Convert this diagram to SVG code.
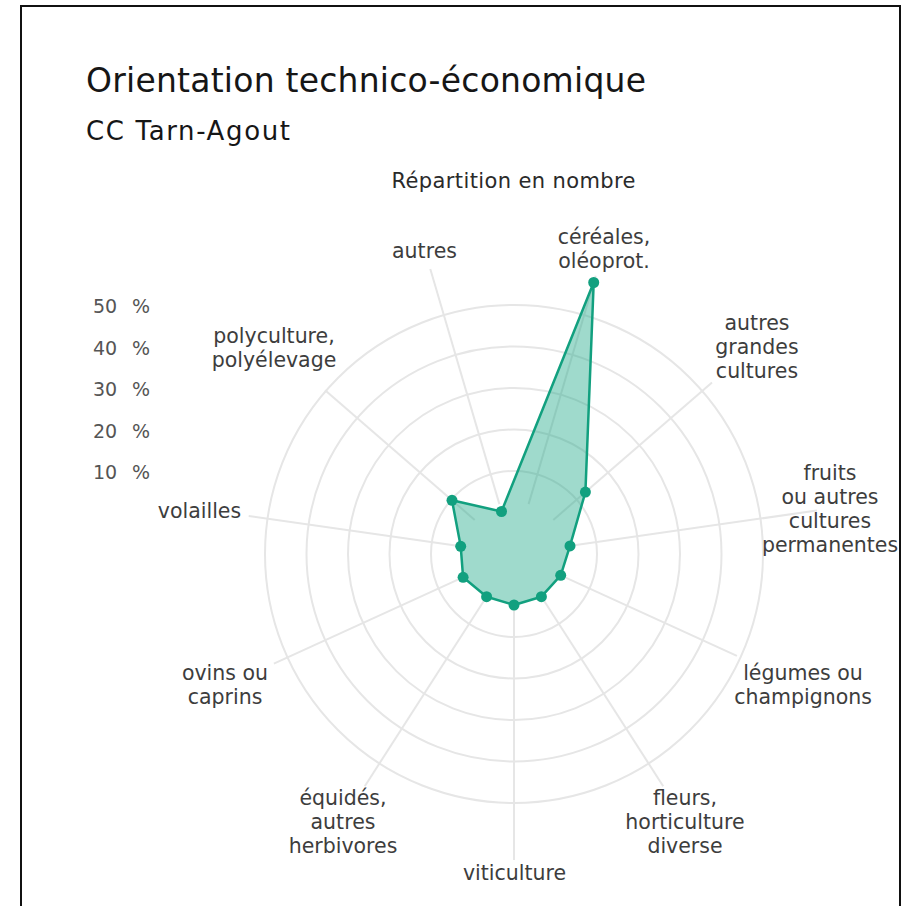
<svg xmlns="http://www.w3.org/2000/svg" width="904" height="906" viewBox="0 0 904 906">
<style>
.t{font-family:"DejaVu Sans","Open Sans","Liberation Sans",sans-serif;}
.title{font-size:33px;fill:#161616;}
.sub{font-size:26px;fill:#161616;}
.cap{font-size:21px;fill:#2a2a2a;}
.lab{font-size:20.5px;fill:#3d3d3d;text-anchor:middle;}
.tick{font-size:19px;fill:#555555;}
.grid{fill:none;stroke:#e6e6e6;stroke-width:2;}
.ax{stroke:#e6e6e6;stroke-width:2;}
.dot{fill:#12a07f;}
</style>
<rect x="0" y="0" width="904" height="906" fill="#ffffff"/>
<rect x="21" y="6" width="879" height="912" fill="none" stroke="#111111" stroke-width="2"/>
<g id="header" class="t">
<text class="title" x="86" y="92" textLength="560" lengthAdjust="spacing">Orientation technico-économique</text>
<text class="sub" x="86" y="140" textLength="204" lengthAdjust="spacing">CC Tarn-Agout</text>
<text class="cap" x="513.5" y="188" text-anchor="middle" textLength="244" lengthAdjust="spacing">Répartition en nombre</text>
</g>
<g id="grid">
<circle class="grid" cx="514" cy="554" r="83"/>
<circle class="grid" cx="514" cy="554" r="124.5"/>
<circle class="grid" cx="514" cy="554" r="166"/>
<circle class="grid" cx="514" cy="554" r="207.5"/>
<circle class="grid" cx="514" cy="554" r="249"/>
</g>
<g id="axes">
<line class="ax" x1="528.6" y1="504.1" x2="595.7" y2="275.7"/>
<line class="ax" x1="553.3" y1="519.9" x2="712.0" y2="382.4"/>
<line class="ax" x1="565.5" y1="546.6" x2="816.9" y2="510.5"/>
<line class="ax" x1="561.3" y1="575.6" x2="736.9" y2="655.8"/>
<line class="ax" x1="542.1" y1="597.7" x2="663.2" y2="786.2"/>
<line class="ax" x1="514" y1="606" x2="514" y2="860"/>
<line class="ax" x1="485.9" y1="597.7" x2="364.8" y2="786.2"/>
<line class="ax" x1="466.7" y1="575.6" x2="273.9" y2="663.7"/>
<line class="ax" x1="462.5" y1="546.6" x2="248.7" y2="515.9"/>
<line class="ax" x1="474.7" y1="519.9" x2="325.1" y2="390.3"/>
<line class="ax" x1="499.4" y1="504.1" x2="430.3" y2="269.0"/>
</g>
<g id="ticks" class="t tick">
<text x="93" y="313">50<tspan x="132">%</tspan></text>
<text x="93" y="354.5">40<tspan x="132">%</tspan></text>
<text x="93" y="396">30<tspan x="132">%</tspan></text>
<text x="93" y="437.5">20<tspan x="132">%</tspan></text>
<text x="93" y="479">10<tspan x="132">%</tspan></text>
</g>
<g id="series">
<polygon points="593.7,282.5 585.4,492.1 570.0,545.9 560.7,575.3 541.4,596.7 514,605 486.6,596.7 463.1,577.3 460.7,546.3 452.0,500.3 501.5,511.5" fill="#1aa886" fill-opacity="0.42" stroke="#12a07f" stroke-width="2.5" stroke-linejoin="round"/>
<circle class="dot" cx="593.7" cy="282.5" r="5.5"/>
<circle class="dot" cx="585.4" cy="492.1" r="5.5"/>
<circle class="dot" cx="570.0" cy="545.9" r="5.5"/>
<circle class="dot" cx="560.7" cy="575.3" r="5.5"/>
<circle class="dot" cx="541.4" cy="596.7" r="5.5"/>
<circle class="dot" cx="514" cy="605" r="5.5"/>
<circle class="dot" cx="486.6" cy="596.7" r="5.5"/>
<circle class="dot" cx="463.1" cy="577.3" r="5.5"/>
<circle class="dot" cx="460.7" cy="546.3" r="5.5"/>
<circle class="dot" cx="452.0" cy="500.3" r="5.5"/>
<circle class="dot" cx="501.5" cy="511.5" r="5.5"/>
</g>
<g id="label-cereales" class="t lab"><text x="604" y="244">céréales,</text><text x="604" y="268">oléoprot.</text></g>
<g id="label-autres-gc" class="t lab"><text x="757" y="330">autres</text><text x="757" y="354">grandes</text><text x="757" y="378">cultures</text></g>
<g id="label-fruits" class="t lab"><text x="830" y="480">fruits</text><text x="830" y="504">ou autres</text><text x="830" y="528">cultures</text><text x="830" y="552">permanentes</text></g>
<g id="label-legumes" class="t lab"><text x="803" y="680">légumes ou</text><text x="803" y="704">champignons</text></g>
<g id="label-fleurs" class="t lab"><text x="685" y="805">fleurs,</text><text x="685" y="829">horticulture</text><text x="685" y="853">diverse</text></g>
<g id="label-viticulture" class="t lab"><text x="514.5" y="880">viticulture</text></g>
<g id="label-equides" class="t lab"><text x="343" y="805">équidés,</text><text x="343" y="829">autres</text><text x="343" y="853">herbivores</text></g>
<g id="label-ovins" class="t lab"><text x="225" y="680">ovins ou</text><text x="225" y="704">caprins</text></g>
<g id="label-volailles" class="t lab"><text x="199.5" y="518">volailles</text></g>
<g id="label-polyculture" class="t lab"><text x="274" y="343">polyculture,</text><text x="274" y="367">polyélevage</text></g>
<g id="label-autres" class="t lab"><text x="424.5" y="258">autres</text></g>
</svg>
